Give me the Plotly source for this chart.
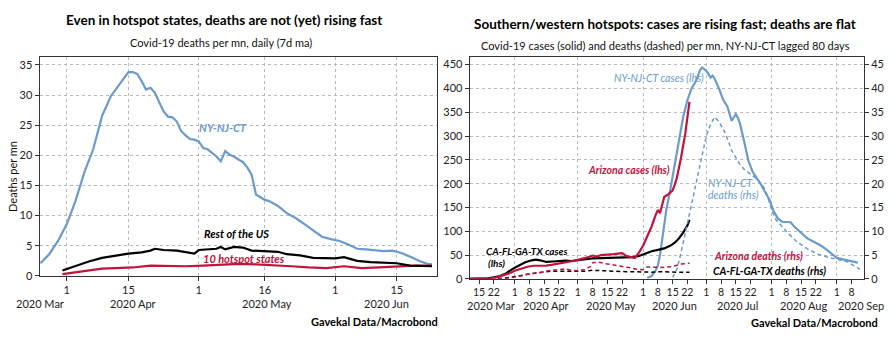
import plotly.graph_objects as go

W, H = 896, 352
def PX(x): return x / W
def PY(y): return 1 - y / H

BLUE = "#6b9bcc"
RED = "#c0143c"
BLACK = "#000000"
FONT = "Lato"

# ---------------- Left chart data (deaths per mn, 7d ma) ----------------
l_ny_dates = ["2020-03-26","2020-03-28","2020-03-30","2020-04-01","2020-04-03","2020-04-05","2020-04-07",
              "2020-04-09","2020-04-11","2020-04-13","2020-04-14","2020-04-15","2020-04-16","2020-04-17",
              "2020-04-18","2020-04-19","2020-04-20","2020-04-21","2020-04-22","2020-04-23","2020-04-24",
              "2020-04-25","2020-04-26","2020-04-27","2020-04-28","2020-04-29","2020-04-30","2020-05-01",
              "2020-05-02","2020-05-03","2020-05-04","2020-05-05","2020-05-06","2020-05-07","2020-05-08",
              "2020-05-09","2020-05-10","2020-05-11","2020-05-12","2020-05-13","2020-05-14","2020-05-15",
              "2020-05-16","2020-05-17","2020-05-18","2020-05-19","2020-05-20","2020-05-21","2020-05-22",
              "2020-05-23","2020-05-25","2020-05-27","2020-05-29","2020-05-31","2020-06-02","2020-06-04",
              "2020-06-06","2020-06-08","2020-06-10","2020-06-12","2020-06-14","2020-06-16","2020-06-18",
              "2020-06-20","2020-06-22","2020-06-23"]
l_ny_vals = [2.1,3.6,5.8,8.6,12.5,17.2,21.0,
             26.5,29.8,31.8,32.6,33.8,33.8,33.5,
             32.3,30.9,31.2,30.4,28.8,27.3,26.4,
             26.3,25.6,24.0,23.3,22.7,22.6,22.3,
             21.2,21.0,20.4,19.8,19.0,20.7,20.1,
             19.8,19.3,18.9,18.0,16.8,13.5,13.0,
             12.6,12.4,12.0,11.6,11.0,10.4,10.0,
             9.6,8.6,7.5,6.5,6.1,5.8,5.2,
             4.5,4.4,4.2,4.1,4.2,3.8,3.2,
             2.5,2.0,1.9]

l_rest_dates = ["2020-03-31","2020-04-03","2020-04-06","2020-04-09","2020-04-12","2020-04-15","2020-04-18",
                "2020-04-20","2020-04-21","2020-04-23","2020-04-26","2020-04-28","2020-04-30","2020-05-01",
                "2020-05-03","2020-05-05","2020-05-06","2020-05-07","2020-05-09","2020-05-11","2020-05-13",
                "2020-05-16","2020-05-19","2020-05-21","2020-05-24","2020-05-27","2020-05-30","2020-06-01",
                "2020-06-03","2020-06-06","2020-06-09","2020-06-12","2020-06-15","2020-06-18","2020-06-21",
                "2020-06-23"]
l_rest_vals = [0.9,1.7,2.4,3.0,3.4,3.7,3.9,
               4.2,4.5,4.3,4.2,4.0,3.7,4.3,
               4.4,4.5,4.8,4.4,4.8,4.7,4.2,
               4.1,4.0,3.6,3.4,3.0,2.9,2.9,
               3.1,2.5,2.3,2.2,2.1,1.7,1.6,
               1.6]

l_hot_dates = ["2020-03-31","2020-04-03","2020-04-06","2020-04-09","2020-04-12","2020-04-16","2020-04-20",
               "2020-04-24","2020-04-28","2020-05-02","2020-05-06","2020-05-10","2020-05-14","2020-05-18",
               "2020-05-22","2020-05-26","2020-05-30","2020-06-03","2020-06-07","2020-06-11","2020-06-15",
               "2020-06-19","2020-06-23"]
l_hot_vals = [0.3,0.6,0.9,1.2,1.3,1.4,1.7,
              1.6,1.6,1.7,1.9,2.0,1.9,1.8,
              1.6,1.4,1.3,1.6,1.3,1.4,1.6,
              1.7,1.7]

l_tick_vals = ["2020-04-01","2020-04-15","2020-05-01","2020-05-16","2020-06-01","2020-06-15"]
l_tick_text = ["1","15","1","16","1","15"]
l_month_pos = ["2020-03-26","2020-04-16","2020-05-16 14:00","2020-06-12 14:00"]
l_month_text = ["2020 Mar","2020 Apr","2020 May","2020 Jun"]

# ---------------- Right chart data ----------------
r_cfgt_case_dates = ["2020-03-10","2020-03-15","2020-03-19","2020-03-22","2020-03-25","2020-03-28","2020-03-31",
                     "2020-04-03","2020-04-06","2020-04-09","2020-04-11","2020-04-13","2020-04-16","2020-04-19",
                     "2020-04-22","2020-04-25","2020-04-28","2020-05-01","2020-05-04","2020-05-08","2020-05-12",
                     "2020-05-16","2020-05-20","2020-05-24","2020-05-27","2020-05-30","2020-06-02","2020-06-05",
                     "2020-06-08","2020-06-11","2020-06-14","2020-06-16","2020-06-18","2020-06-20","2020-06-22",
                     "2020-06-23"]
r_cfgt_case_vals = [0,0.3,1,3,6,12,21,
                    28,35,39,40.5,39,35.5,36.5,
                    38,38.5,37.5,38.5,41,43,43.5,
                    44.5,45,45.5,45.5,48,53,58,
                    61,64,70,76,85,97,112,
                    124]

r_az_case_dates = ["2020-03-10","2020-03-15","2020-03-20","2020-03-23","2020-03-26","2020-03-29","2020-04-01",
                   "2020-04-04","2020-04-07","2020-04-10","2020-04-13","2020-04-16","2020-04-19","2020-04-22",
                   "2020-04-25","2020-04-28","2020-05-01","2020-05-04","2020-05-06","2020-05-08","2020-05-10",
                   "2020-05-12","2020-05-14","2020-05-16","2020-05-18","2020-05-20","2020-05-22","2020-05-24",
                   "2020-05-26","2020-05-28","2020-05-30","2020-06-01","2020-06-03","2020-06-05","2020-06-07",
                   "2020-06-08","2020-06-09","2020-06-10","2020-06-11","2020-06-13","2020-06-15","2020-06-16",
                   "2020-06-17","2020-06-19","2020-06-21","2020-06-23"]
r_az_case_vals = [0,0.2,1,2.5,6,11,17,
                  22,25.5,27.5,27,28,30,32,
                  34,37,40,43,46,49,47,
                  50,50.5,50,52,53,54,48,
                  45.5,44,55,70,90,110,135,
                  145,138,158,172,178,186,198,
                  212,255,305,372]

r_ny_case_dates = ["2020-06-03","2020-06-05","2020-06-07","2020-06-08","2020-06-09","2020-06-10","2020-06-11",
                   "2020-06-12","2020-06-14","2020-06-16","2020-06-18","2020-06-20","2020-06-22","2020-06-24",
                   "2020-06-26","2020-06-27","2020-06-28","2020-06-29","2020-06-30","2020-07-01","2020-07-03",
                   "2020-07-04","2020-07-05","2020-07-07","2020-07-09","2020-07-11","2020-07-13","2020-07-14",
                   "2020-07-15","2020-07-16","2020-07-17","2020-07-19","2020-07-21","2020-07-23","2020-07-25",
                   "2020-07-27","2020-07-29","2020-07-31","2020-08-02","2020-08-04","2020-08-06","2020-08-08",
                   "2020-08-10","2020-08-12","2020-08-15","2020-08-18","2020-08-21","2020-08-24","2020-08-27",
                   "2020-08-30","2020-09-01","2020-09-04","2020-09-07","2020-09-11"]
r_ny_case_vals = [2,6,18,28,50,80,115,
                  145,190,241,295,340,375,400,
                  415,425,438,444,441,437,423,
                  427,420,400,376,362,332,338,
                  346,338,326,288,248,225,212,
                  198,182,166,142,127,120,120,
                  119,109,96,85,78,71,62,
                  50,44,41,38,34]

r_ny_death_dates = ["2020-06-15","2020-06-17","2020-06-19","2020-06-21","2020-06-23","2020-06-25","2020-06-27",
                    "2020-06-29","2020-07-01","2020-07-03","2020-07-05","2020-07-07","2020-07-09","2020-07-11",
                    "2020-07-13","2020-07-15","2020-07-17","2020-07-19","2020-07-22","2020-07-25","2020-07-28",
                    "2020-07-30","2020-08-01","2020-08-03","2020-08-06","2020-08-09","2020-08-13","2020-08-18",
                    "2020-08-23","2020-08-28","2020-09-02","2020-09-06","2020-09-09","2020-09-12"]
r_ny_death_vals = [0.3,2.0,5.5,9.5,13.5,17.5,22,
                   26,30,32.5,34,33,31.5,29.5,
                   27,25.5,24,23,22,21,19.5,
                   17.5,14.5,12.5,11,9.5,7.8,6.3,
                   5.2,4.5,4.0,3.6,2.8,2.0]

r_az_death_dates = ["2020-03-24","2020-03-28","2020-04-01","2020-04-05","2020-04-09","2020-04-13","2020-04-17",
                    "2020-04-21","2020-04-25","2020-04-28","2020-05-01","2020-05-04","2020-05-07","2020-05-08",
                    "2020-05-11","2020-05-14","2020-05-18","2020-05-22","2020-05-26","2020-05-29","2020-06-01",
                    "2020-06-03","2020-06-07","2020-06-11","2020-06-15","2020-06-19","2020-06-23"]
r_az_death_vals = [0,0.1,0.4,0.8,1.1,1.3,1.7,
                   1.9,2.1,1.8,1.7,1.9,2.6,3.4,
                   3.5,3.2,2.9,2.7,2.3,2.0,1.9,
                   2.5,2.5,2.4,2.6,3.1,3.3]

r_cfgt_death_dates = ["2020-03-24","2020-03-28","2020-04-02","2020-04-06","2020-04-10","2020-04-14","2020-04-18",
                      "2020-04-22","2020-04-26","2020-04-30","2020-05-04","2020-05-08","2020-05-12","2020-05-16",
                      "2020-05-20","2020-05-24","2020-05-28","2020-06-01","2020-06-05","2020-06-09","2020-06-13",
                      "2020-06-17","2020-06-21","2020-06-23"]
r_cfgt_death_vals = [0,0.2,0.5,0.9,1.2,1.4,1.6,
                     1.6,1.5,1.5,1.6,1.8,1.7,1.6,
                     1.6,1.5,1.5,1.4,1.4,1.5,1.4,
                     1.4,1.4,1.4]

r_tick_vals = ["2020-03-15","2020-03-22",
               "2020-04-01","2020-04-08","2020-04-15","2020-04-22",
               "2020-05-01","2020-05-08","2020-05-15","2020-05-22",
               "2020-06-01","2020-06-08","2020-06-15","2020-06-22",
               "2020-07-01","2020-07-08","2020-07-15","2020-07-22",
               "2020-08-01","2020-08-08","2020-08-15","2020-08-22",
               "2020-09-01","2020-09-08"]
r_tick_text = ["15","22","1","8","15","22","1","8","15","22","1","8","15","22",
               "1","8","15","22","1","8","15","22","1","8"]
r_grid_vals = ["2020-04-01","2020-05-01","2020-06-01","2020-07-01","2020-08-01","2020-09-01"]
r_month_pos = ["2020-03-20 14:00","2020-04-15 20:00","2020-05-16 12:00","2020-06-16",
               "2020-07-16","2020-08-16 05:00","2020-09-12 10:00"]
r_month_text = ["2020 Mar","2020 Apr","2020 May","2020 Jun","2020 Jul","2020 Aug","2020 Sep"]

fig = go.Figure()

def line(x, y, color, xa, ya, width=2.2, dash="solid"):
    fig.add_trace(go.Scatter(x=x, y=y, mode="lines", xaxis=xa, yaxis=ya,
                             line=dict(color=color, width=width, dash=dash),
                             hoverinfo="skip", showlegend=False))

# left
line(l_ny_dates, l_ny_vals, BLUE, "x", "y")
line(l_hot_dates, l_hot_vals, RED, "x", "y")
line(l_rest_dates, l_rest_vals, BLACK, "x", "y")
# right: deaths (rhs, dashed)
line(r_cfgt_death_dates, r_cfgt_death_vals, BLACK, "x2", "y3", width=1.5, dash="4px,3px")
line(r_az_death_dates, r_az_death_vals, RED, "x2", "y3", width=1.5, dash="4px,3px")
line(r_ny_death_dates, r_ny_death_vals, BLUE, "x2", "y3", width=1.5, dash="4px,3px")
# right: cases (lhs, solid)
line(r_ny_case_dates, r_ny_case_vals, BLUE, "x2", "y2")
line(r_cfgt_case_dates, r_cfgt_case_vals, BLACK, "x2", "y2")
line(r_az_case_dates, r_az_case_vals, RED, "x2", "y2")

GRID = dict(showgrid=True, gridcolor="#b8b8b8", gridwidth=1, griddash="dot")
TICKF = dict(family=FONT, size=11, color="#222")
TICKF_R = dict(family=FONT, size=10.5, color="#222")
AXL = dict(showline=True, linecolor="#333", linewidth=1)

fig.update_layout(
    width=W, height=H, margin=dict(l=0, r=0, t=0, b=0),
    paper_bgcolor="white", plot_bgcolor="white",
    font=dict(family=FONT, color="#111"),
    xaxis=dict(domain=[PX(39.5), PX(437.3)], anchor="y",
               range=["2020-03-25 19:00", "2020-06-24 05:00"],
               tickmode="array", tickvals=l_tick_vals, ticktext=l_tick_text, tickangle=0,
               ticks="outside", ticklen=4, tickcolor="#333", tickfont=TICKF,
               mirror=True, zeroline=False, **GRID, **AXL),
    yaxis=dict(domain=[PY(280.7), PY(58)], anchor="x", range=[0, 36.3],
               tickvals=[0, 5, 10, 15, 20, 25, 30, 35],
               ticks="outside", ticklen=4, tickcolor="#333", tickfont=TICKF,
               mirror=True, zeroline=False, **GRID, **AXL),
    xaxis2=dict(domain=[PX(469.7), PX(864)], anchor="y2",
                range=["2020-03-10 14:00", "2020-09-13 22:00"],
                tickmode="array", tickvals=r_tick_vals, ticktext=r_tick_text, tickangle=0,
                ticks="outside", ticklen=4, tickcolor="#333", tickfont=TICKF_R,
                showgrid=False, mirror=True, zeroline=False,
                minor=dict(tickmode="array", tickvals=r_grid_vals, showgrid=True,
                           gridcolor="#b8b8b8", gridwidth=1, griddash="dot", ticks=""),
                **AXL),
    yaxis2=dict(domain=[PY(283.7), PY(58)], anchor="x2", range=[0, 466],
                tickvals=[0, 50, 100, 150, 200, 250, 300, 350, 400, 450],
                ticks="outside", ticklen=4, tickcolor="#333", tickfont=TICKF,
                mirror=True, zeroline=False, **GRID, **AXL),
    yaxis3=dict(overlaying="y2", side="right", anchor="x2", range=[0, 46.6],
                tickvals=[0, 5, 10, 15, 20, 25, 30, 35, 40, 45],
                ticks="outside", ticklen=4, tickcolor="#333", tickfont=TICKF,
                showgrid=False, zeroline=False, **AXL),
)

ann = []
def txt(x, y, s, size=11, color="#111", bold=False, italic=False, xanchor="center", angle=0):
    t = s
    if bold:
        t = "<b>" + t + "</b>"
    if italic:
        t = "<i>" + t + "</i>"
    ann.append(dict(x=PX(x), y=PY(y), xref="paper", yref="paper", text=t, showarrow=False,
                    xanchor=xanchor, yanchor="middle", textangle=angle,
                    font=dict(family=FONT, size=size, color=color)))

# titles
txt(223.5, 20, "Even in hotspot states, deaths are not (yet) rising fast", size=13.5, bold=True, color="#000")
txt(221, 43, "Covid-19 deaths per mn, daily (7d ma)", size=11)
txt(665, 24.5, "Southern/western hotspots: cases are rising fast; deaths are flat", size=13.5, bold=True, color="#000")
txt(665, 46.5, "Covid-19 cases (solid) and deaths (dashed) per mn, NY-NJ-CT lagged 80 days", size=11)
# y title
txt(13, 180, "Deaths per mn", size=11, angle=-90)
# sources
txt(440, 327, "Gavekal Data/Macrobond", size=11, bold=True, xanchor="right", color="#000")
txt(880, 328, "Gavekal Data/Macrobond", size=11, bold=True, xanchor="right", color="#000")
# left series labels
txt(197, 130, "NY-NJ-CT", size=11, bold=True, italic=True, color=BLUE, xanchor="left")
txt(202, 238, "Rest of the US", size=11, bold=True, italic=True, color="#000", xanchor="left")
txt(201, 262.5, "10 hotspot states", size=11, bold=True, italic=True, color=RED, xanchor="left")
# right series labels
txt(612, 79, "NY-NJ-CT cases (lhs)", size=10.5, italic=True, color=BLUE, xanchor="left")
txt(586, 172.5, "Arizona cases (lhs)", size=10.5, bold=True, italic=True, color=RED, xanchor="left")
txt(484, 255.5, "CA-FL-GA-TX cases", size=10, bold=True, italic=True, color="#000", xanchor="left")
txt(486, 268, "(lhs)", size=10, bold=True, italic=True, color="#000", xanchor="left")
txt(706, 186, "NY-NJ-CT", size=10.5, italic=True, color=BLUE, xanchor="left")
txt(706, 198.5, "deaths (rhs)", size=10.5, italic=True, color=BLUE, xanchor="left")
txt(712, 260.5, "Arizona deaths (rhs)", size=10.5, bold=True, italic=True, color=RED, xanchor="left")
txt(711, 275.5, "CA-FL-GA-TX deaths (rhs)", size=10.5, bold=True, italic=True, color="#000", xanchor="left")

# month labels (second tick row)
for d, s in zip(l_month_pos, l_month_text):
    ann.append(dict(x=d, y=PY(308.5), xref="x", yref="paper", text=s, showarrow=False,
                    xanchor="center", yanchor="middle", font=TICKF))
for d, s in zip(r_month_pos, r_month_text):
    ann.append(dict(x=d, y=PY(311), xref="x2", yref="paper", text=s, showarrow=False,
                    xanchor="center", yanchor="middle", font=TICKF))

fig.update_layout(annotations=ann)
fig.write_html("out.html")
